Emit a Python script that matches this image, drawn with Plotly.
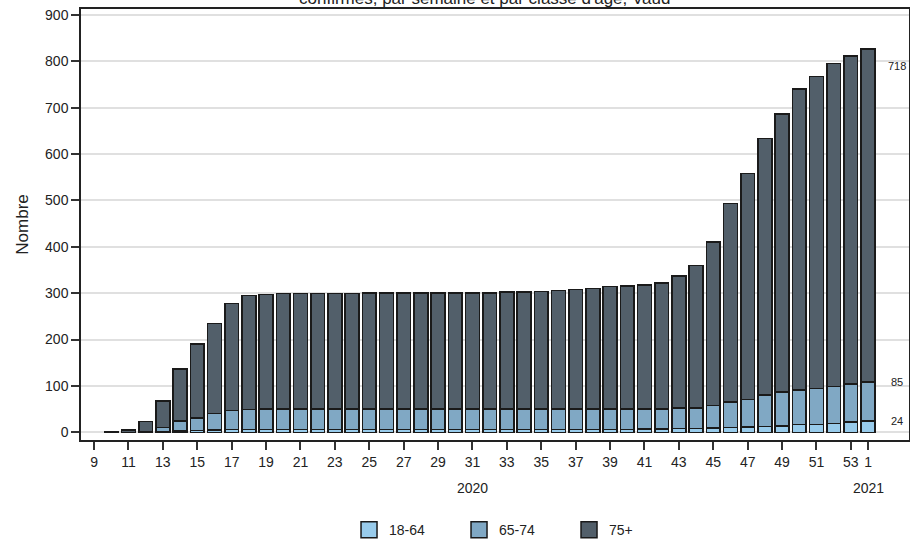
import plotly.graph_objects as go

# Week positions (10..53 of 2020, then week 1 of 2021 at position 54)
weeks = list(range(10, 55))
tick_vals = list(range(9, 54, 2)) + [54]
tick_text = [str(w) for w in range(9, 54, 2)] + ["1"]

# Cumulative deaths by age class
age_18_64 = [0, 0, 0, 2, 3, 4, 5, 6, 6, 6,
             6, 6, 6, 6, 6, 6, 6, 6, 6, 6,
             6, 6, 6, 6, 6, 6, 6, 6, 6, 6,
             6, 7, 7, 8, 8, 9, 10, 11, 12, 14,
             17, 17, 19, 22, 24]
age_65_74_cum = [0, 0, 1, 10, 24, 31, 41, 47, 49, 50,
                 50, 50, 50, 50, 50, 50, 50, 50, 50, 50,
                 50, 50, 50, 50, 50, 50, 50, 50, 50, 50,
                 50, 50, 50, 52, 52, 58, 65, 71, 80, 87,
                 91, 94, 99, 104, 109]
totals = [2, 5, 23, 67, 137, 191, 235, 278, 295, 297,
          299, 299, 299, 299, 299, 300, 300, 300, 300, 300,
          300, 301, 301, 303, 303, 304, 306, 308, 310, 315,
          316, 318, 322, 337, 360, 411, 493, 558, 634, 687,
          740, 767, 795, 812, 827]

age_65_74 = [c - a for c, a in zip(age_65_74_cum, age_18_64)]
age_75p = [t - c for t, c in zip(totals, age_65_74_cum)]

names = ["18-64", "65-74", "75+"]
colors = ["#98cbeb", "#80a8c4", "#525f6a"]
series = [age_18_64, age_65_74, age_75p]

fig = go.Figure()
for name, col, vals in zip(names, colors, series):
    fig.add_trace(go.Bar(x=weeks, y=vals, name=name, width=0.8,
                         marker=dict(color=col, line=dict(color="#1a1a1a", width=1.5)),
                         showlegend=False))
for name, col in zip(names, colors):
    fig.add_trace(go.Scatter(x=[None], y=[None], mode="markers", name=name,
                             marker=dict(symbol="square", size=18, color=col,
                                         line=dict(color="#1a1a1a", width=1.5))))

font = "Liberation Sans, Arial, sans-serif"

# End-of-series labels
last = len(weeks) - 1
label_y = [age_18_64[last],
           age_65_74_cum[last],
           age_65_74_cum[last] + age_75p[last] * 0.95]
label_txt = [age_18_64[last], age_65_74[last], age_75p[last]]
for yv, tv in zip(label_y, label_txt):
    fig.add_annotation(x=55.7, y=yv, xref="x", yref="y", text=str(tv),
                       showarrow=False, font=dict(size=11, color="#222", family=font))

fig.add_annotation(x=31, y=-0.111, xref="x", yref="paper", text="2020",
                   showarrow=False, yanchor="middle",
                   font=dict(size=14, color="#222", family=font))
fig.add_annotation(x=54, y=-0.111, xref="x", yref="paper", text="2021",
                   showarrow=False, yanchor="middle",
                   font=dict(size=14, color="#222", family=font))
fig.add_annotation(x=0.487, y=1.0255, xref="paper", yref="paper",
                   text="confirmés, par semaine et par classe d'âge, Vaud",
                   showarrow=False, yanchor="middle",
                   font=dict(size=17, color="#222", family=font))

fig.update_layout(
    width=910, height=540,
    margin=dict(l=81, r=1, t=9, b=100, autoexpand=False),
    paper_bgcolor="white", plot_bgcolor="white",
    barmode="stack", bargap=0.2,
    font=dict(family=font, size=14, color="#222"),
    showlegend=True,
    legend=dict(orientation="h", x=0.3237, xanchor="left", y=-0.209, yanchor="middle",
                font=dict(size=14), itemsizing="trace", traceorder="normal",
                entrywidth=65, entrywidthmode="pixels"),
    xaxis=dict(range=[8.24, 56.38], tickvals=tick_vals, ticktext=tick_text,
               ticks="outside", ticklen=8, tickwidth=1.5, tickcolor="#333",
               showline=True, linecolor="#222", linewidth=1.5, mirror=True,
               showgrid=False, zeroline=False, tickfont=dict(size=14)),
    yaxis=dict(range=[-16.6, 913], tickvals=list(range(0, 901, 100)),
               ticks="outside", ticklen=8, tickwidth=1.5, tickcolor="#333",
               showline=True, linecolor="#222", linewidth=1.5, mirror=True,
               showgrid=True, gridcolor="#e0e0e0", gridwidth=1.5, zeroline=False,
               title=dict(text="Nombre", font=dict(size=17), standoff=12),
               tickfont=dict(size=14)),
)

fig.write_html("out.html", config={"displayModeBar": False},
               post_script="document.body.style.margin='0';")
